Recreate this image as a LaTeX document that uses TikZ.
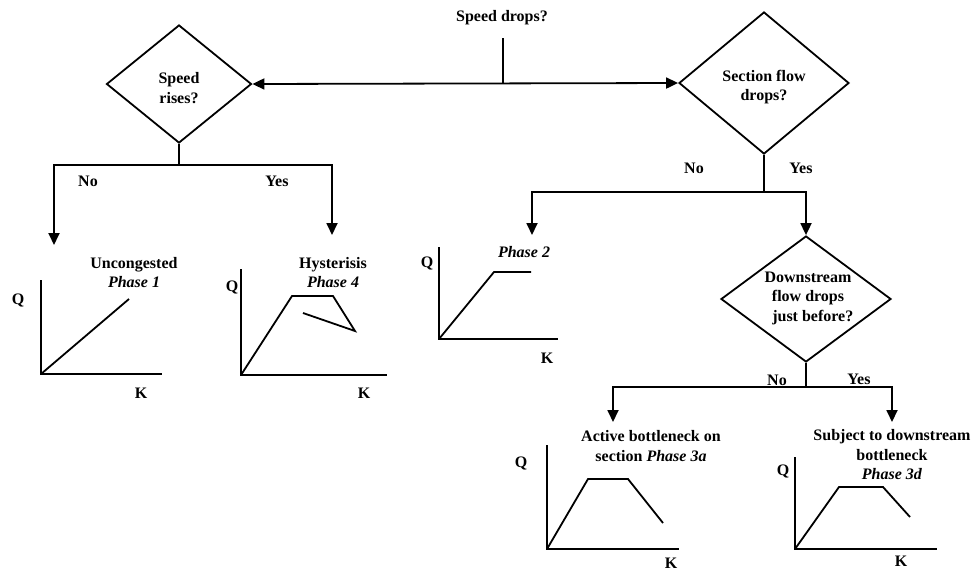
\documentclass[tikz,border=0pt]{standalone}
\usepackage{fontspec}
\setmainfont{Liberation Serif}
\usetikzlibrary{arrows.meta,shapes.geometric}
\tikzset{
  ln/.style={line width=1.8pt},
  arr/.style={ln, -{Triangle[length=12pt,width=11pt]}},
  dbl/.style={ln, {Triangle[length=12pt,width=11pt]}-{Triangle[length=12pt,width=11pt]}},
  dia/.style={draw, line width=1.8pt, shape=diamond, inner sep=0pt},
  txt/.style={font=\fontsize{16}{19.5}\selectfont\bfseries, align=center, inner sep=0pt},
  axl/.style={line width=2pt, line join=miter},
  crv/.style={line width=1.8pt, line join=miter},
}
\begin{document}
\begin{tikzpicture}[x=1pt,y=-1pt]
\useasboundingbox (0,0) rectangle (974,571);

% top question
\node[txt] (top) at (502,18) {Speed drops?};
\coordinate (t0) at (503,38);
\coordinate (j0) at (503,84);

% diamonds
\node[dia, minimum width=145pt, minimum height=118pt] (D1) at (179,84) {};
\node[txt] (D1t) at (179,88) {Speed\\rises?};
\node[dia, minimum width=170pt, minimum height=142pt] (D2) at (764,83) {};
\node[txt] (D2t) at (764,87) {Section flow\\drops?};
\node[dia, minimum width=170pt, minimum height=126pt] (D3) at (806,299) {};
\node[txt] (D3t) at (808,298) {Downstream\\flow drops\\\hspace*{0.6em}just before?};

\draw[ln] (t0) -- (j0);
\draw[dbl] (D1.east) -- (D2.west);

% branch of D1
\coordinate (b1) at (179,165);
\coordinate (a1) at (54,245);
\coordinate (a4) at (332,235);
\draw[ln] (D1.south) -- (b1);
\draw[arr] (b1) -| (a1);
\draw[arr] (b1) -| (a4);
\node[txt] (no1) at (88,181) {No};
\node[txt] (yes1) at (277,181) {Yes};

% branch of D2
\coordinate (b2) at (764,192);
\coordinate (a2) at (532,235);
\draw[ln] (D2.south) -- (b2);
\draw[arr] (b2) -| (a2);
\draw[arr] (b2) -| (D3.north);
\node[txt] (no2) at (694,168) {No};
\node[txt] (yes2) at (801,168) {Yes};

% branch of D3
\coordinate (b3) at (806,387);
\coordinate (a3a) at (613,422);
\coordinate (a3d) at (892,422);
\draw[ln] (D3.south) -- (b3);
\draw[arr] (b3) -| (a3a);
\draw[arr] (b3) -| (a3d);
\node[txt] (no3) at (777,380) {No};
\node[txt] (yes3) at (859,379) {Yes};

% graph labels
\node[txt] (L1) at (134,272.5) {Uncongested\\\textit{Phase 1}};
\node[txt] (L4) at (333,272.5) {Hysterisis\\\textit{Phase 4}};
\node[txt] (L2) at (524,252) {\textit{Phase 2}};
\node[txt] (L3a) at (651,446) {Active bottleneck on\\section \textit{Phase 3a}};
\node[txt] (L3d) at (892,455) {Subject to downstream\\bottleneck\\\textit{Phase 3d}};

% graph Phase 1
\draw[axl] (41,280) -- (41,374) -- (162,374);
\draw[crv] (41,374) -- (129,299);
\node[txt] (Q1) at (18,300) {Q};
\node[txt] (K1) at (141,393) {K};

% graph Phase 4
\draw[axl] (241,269) -- (241,375) -- (387,375);
\draw[crv] (241,375) -- (292,296) -- (333,296) -- (355,331) -- (303,313);
\node[txt] (Q4) at (232,287) {Q};
\node[txt] (K4) at (364,393) {K};

% graph Phase 2
\draw[axl] (439,247) -- (439,339) -- (558,339);
\draw[crv] (439,339) -- (494,272) -- (531,272);
\node[txt] (Q2) at (427,263) {Q};
\node[txt] (K2) at (547,358) {K};

% graph Phase 3a
\draw[axl] (547,445) -- (547,549) -- (679,549);
\draw[crv] (547,549) -- (588,479) -- (628,479) -- (663,523);
\node[txt] (Q3a) at (521,463) {Q};
\node[txt] (K3a) at (671,563) {K};

% graph Phase 3d
\draw[axl] (795,457) -- (795,549) -- (937,549);
\draw[crv] (795,549) -- (839,487) -- (883,487) -- (910,517);
\node[txt] (Q3d) at (783,471) {Q};
\node[txt] (K3d) at (901,561) {K};
\end{tikzpicture}
\end{document}
